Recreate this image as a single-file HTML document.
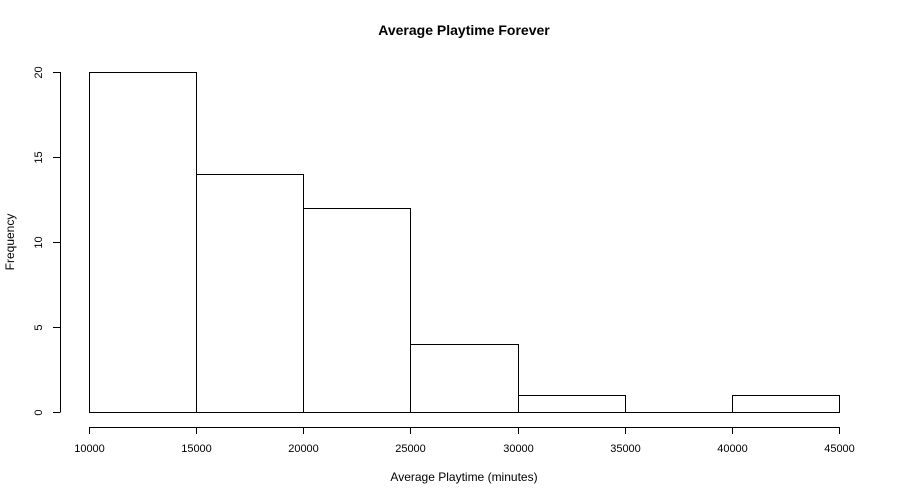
<!DOCTYPE html>
<html><head><meta charset="utf-8"><style>
body{margin:0;background:#fff}
svg{display:block;font-family:"Liberation Sans",Arial,sans-serif}
</style></head><body>
<svg id="chart" width="900" height="500" xmlns="http://www.w3.org/2000/svg">
<rect width="900" height="500" fill="#fff"/>
<text x="464" y="35" text-anchor="middle" font-size="14" font-weight="bold">Average Playtime Forever</text>
<text x="464" y="481" text-anchor="middle" font-size="12">Average Playtime (minutes)</text>
<text transform="translate(14,242) rotate(-90)" text-anchor="middle" font-size="12">Frequency</text>
<g id="bars"></g>
<g id="xaxis"></g>
<g id="yaxis"></g>
</svg>
<script>
const binStarts = [10000,15000,20000,25000,30000,35000,40000];
const binWidth = 5000;
const counts = [20,14,12,4,1,0,1];
const xTicks = [10000,15000,20000,25000,30000,35000,40000,45000];
const yTicks = [0,5,10,15,20];

const NS="http://www.w3.org/2000/svg";
const xs = v => 89 + (v-10000)*(750/35000);
const ys = v => 412 - v*17;
function mk(tag, attrs, parent){const e=document.createElementNS(NS,tag);for(const k in attrs)e.setAttribute(k,attrs[k]);parent.appendChild(e);return e;}
const bars=document.getElementById('bars');
binStarts.forEach((b,i)=>{
  const x0=Math.round(xs(b))+0.5, x1=Math.round(xs(b+binWidth))+0.5, y=Math.round(ys(counts[i]))+0.5, y0=Math.round(ys(0))+0.5;
  const r=mk('path',{d:`M${x0},${y0}L${x0},${y}L${x1},${y}L${x1},${y0}Z`,fill:'#fff',stroke:'#000','stroke-width':1},bars);
  
  
});
const xa=document.getElementById('xaxis');
mk('line',{x1:xs(xTicks[0]),x2:xs(xTicks[xTicks.length-1]),y1:427.5,y2:427.5,stroke:'#000'},xa);
xTicks.forEach(t=>{
  const x=Math.round(xs(t))+0.5;
  mk('line',{x1:x,x2:x,y1:427,y2:434,stroke:'#000'},xa);
  const tx=mk('text',{x:x,y:452,'text-anchor':'middle','font-size':11},xa);
  tx.textContent=t;
  
  
});
const ya=document.getElementById('yaxis');
mk('line',{x1:60.5,x2:60.5,y1:ys(yTicks[0]),y2:ys(yTicks[yTicks.length-1]),stroke:'#000'},ya);
yTicks.forEach(t=>{
  const y=Math.round(ys(t))+0.5;
  mk('line',{x1:53,x2:60.5,y1:y,y2:y,stroke:'#000'},ya);
  const tx=mk('text',{transform:`translate(42,${y}) rotate(-90)`,'text-anchor':'middle','font-size':11},ya);
  tx.textContent=t;
  
  
});
</script>
</body></html>
